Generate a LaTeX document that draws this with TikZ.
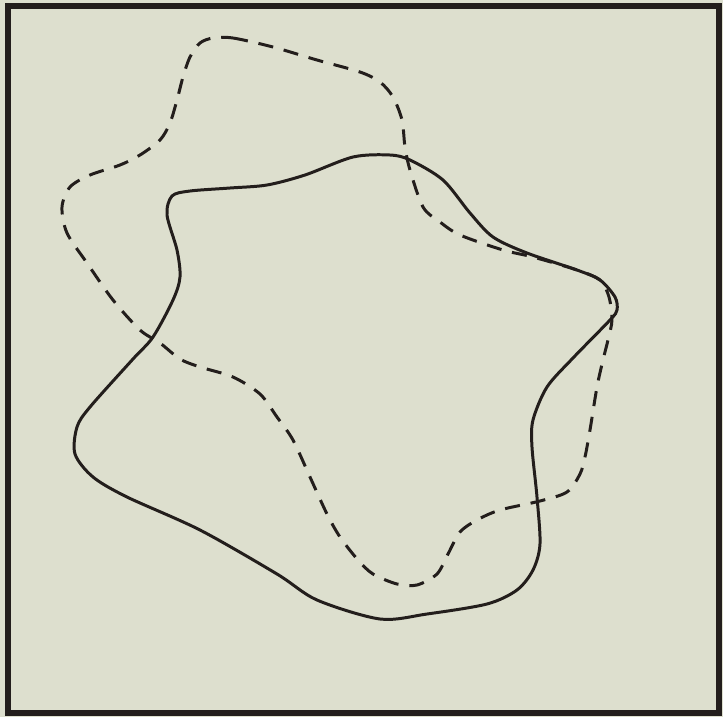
\documentclass[tikz,border=0pt]{standalone}
\usepackage{tikz}
\usepackage{xcolor}
\definecolor{paper}{RGB}{221, 223, 206}
\definecolor{ink}{RGB}{35, 30, 28}

\begin{document}
\begin{tikzpicture}[
    x=0.01cm, y=-0.01cm,
    frame/.style={draw=ink, line width=1.5pt},
    solidcurve/.style={draw=ink, line width=0.85pt},
    dashcurve/.style={draw=ink, line width=0.85pt, dash pattern=on 4.3pt off 3.1pt}
]
    \fill[paper] (0,0) rectangle (723,717);
    \useasboundingbox (0,0) rectangle (723,717);
    \draw[frame] (8,6) rectangle (719,713);

    % solid curve
    \draw[solidcurve] plot[smooth cycle] coordinates {
        (167,215) (172,196) (190,191) (230,188) (267,185) (305,175) (353,157)
        (390,155) (410,160) (443,180) (470,213) (493,237) (527,253) (577,270)
        (600,280) (615,297) (617,310) (610,320) (573,358) (547,387) (533,420)
        (532,447) (537,497) (540,544) (533,570) (517,590) (487,604) (427,614)
        (380,619) (317,600) (277,574) (200,530) (127,497) (93,477)
        (75,454) (77,427) (90,407) (133,359) (153,337) (173,300) (180,277)
        (177,250)};

    % dashed curve
    \draw[dashcurve] plot[smooth cycle] coordinates {
        (213,38) (233,38) (273,47) (317,60) (360,72) (380,82) (393,97)
        (402,120) (405,147) (410,170) (423,207) (440,222) (460,235) (503,250)
        (533,257) (577,270) (600,280) (609,297) (612,320) (608,340) (603,360)
        (597,387) (590,430) (585,457) (580,474) (567,492) (540,501) (500,510)
        (477,520) (460,532) (448,554) (437,574) (417,585) (397,584) (373,574)
        (358,560) (340,537) (327,514) (310,477) (293,440) (277,417) (260,394)
        (233,377) (200,367) (180,359) (160,343) (140,330) (113,300) (87,263)
        (67,233) (62,207) (70,187) (90,175) (120,165) (140,155) (160,140)
        (170,123) (177,100) (183,77) (190,57) (200,43)};
\end{tikzpicture}
\end{document}
